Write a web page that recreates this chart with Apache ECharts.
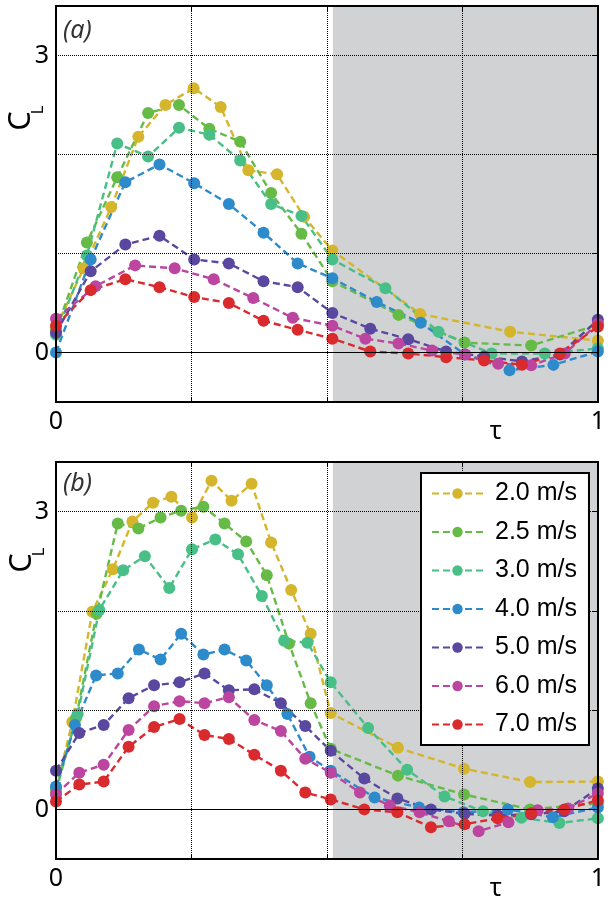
<!DOCTYPE html>
<html>
<head>
<meta charset="utf-8">
<script src="https://cdn.jsdelivr.net/npm/echarts@6/dist/echarts.min.js"></script>
<style>html,body{margin:0;padding:0;background:#fff;}#c{width:608px;height:899px;}</style>
</head>
<body>
<div id="c"></div>
<script>
// ---------- DATA ----------
const seriesNames = ['2.0 m/s', '2.5 m/s', '3.0 m/s', '4.0 m/s', '5.0 m/s', '6.0 m/s', '7.0 m/s'];

// Panel (a)
const tauA20 = [0, 0.051, 0.102, 0.152, 0.202, 0.254, 0.304, 0.355, 0.408, 0.458, 0.510, 0.672, 0.838, 1.0];
const clA20  = [0.25, 0.85, 1.47, 2.18, 2.50, 2.67, 2.48, 1.84, 1.80, 1.37, 1.03, 0.39, 0.21, 0.12];
const tauA25 = [0, 0.057, 0.113, 0.170, 0.227, 0.283, 0.340, 0.397, 0.453, 0.510, 0.632, 0.754, 0.877, 1.0];
const clA25  = [0.22, 1.11, 1.77, 2.42, 2.50, 2.26, 2.13, 1.61, 1.20, 0.72, 0.38, 0.10, 0.07, 0.28];
const tauA30 = [0, 0.057, 0.113, 0.170, 0.227, 0.283, 0.340, 0.397, 0.453, 0.510, 0.608, 0.706, 0.804, 0.902, 1.0];
const clA30  = [0.18, 0.98, 2.11, 1.98, 2.27, 2.20, 1.94, 1.50, 1.38, 0.94, 0.65, 0.21, -0.01, -0.01, 0.04];
const tauA40 = [0, 0.064, 0.128, 0.191, 0.255, 0.319, 0.383, 0.446, 0.510, 0.592, 0.673, 0.755, 0.837, 0.918, 1.0];
const clA40  = [0.0, 0.94, 1.72, 1.90, 1.71, 1.50, 1.21, 0.90, 0.75, 0.51, 0.30, -0.02, -0.18, -0.125, 0.01];
const tauA50 = [0, 0.064, 0.128, 0.191, 0.255, 0.319, 0.383, 0.446, 0.510, 0.580, 0.650, 0.720, 0.790, 0.860, 0.930, 1.0];
const clA50  = [0.20, 0.82, 1.09, 1.18, 0.94, 0.90, 0.72, 0.66, 0.40, 0.24, 0.135, 0.01, -0.04, -0.09, -0.02, 0.33];
const tauA60 = [0, 0.073, 0.146, 0.219, 0.291, 0.364, 0.437, 0.510, 0.571, 0.632, 0.694, 0.755, 0.816, 0.877, 0.939, 1.0];
const clA60  = [0.34, 0.67, 0.88, 0.85, 0.74, 0.55, 0.35, 0.27, 0.14, 0.09, 0.02, -0.02, -0.114, -0.13, -0.01, 0.29];
const tauA70 = [0, 0.064, 0.128, 0.191, 0.255, 0.319, 0.383, 0.446, 0.510, 0.580, 0.650, 0.720, 0.790, 0.860, 0.930, 1.0];
const clA70  = [0.27, 0.63, 0.74, 0.66, 0.56, 0.50, 0.32, 0.23, 0.14, 0.01, -0.01, -0.047, -0.08, -0.124, -0.01, 0.26];

// Panel (b)
const tauB20 = [0, 0.030, 0.067, 0.105, 0.141, 0.179, 0.213, 0.251, 0.287, 0.324, 0.361, 0.397, 0.434, 0.470, 0.507, 0.631, 0.753, 0.875, 1.0];
const clB20  = [0.20, 0.88, 1.99, 2.42, 2.90, 3.09, 3.15, 2.94, 3.31, 3.11, 3.28, 2.69, 2.21, 1.77, 0.97, 0.62, 0.41, 0.275, 0.28];
const tauB25 = [0, 0.037, 0.075, 0.114, 0.152, 0.193, 0.231, 0.272, 0.311, 0.351, 0.389, 0.430, 0.470, 0.507, 0.631, 0.753, 0.875, 1.0];
const clB25  = [0.18, 0.92, 1.97, 2.88, 2.83, 2.94, 3.01, 3.05, 2.88, 2.70, 2.36, 1.67, 1.07, 0.61, 0.34, 0.15, 0.0, 0.06];
const tauB30 = [0, 0.040, 0.080, 0.124, 0.164, 0.209, 0.251, 0.294, 0.336, 0.380, 0.421, 0.464, 0.507, 0.576, 0.648, 0.717, 0.788, 0.859, 0.929, 1.0];
const clB30  = [0.22, 0.96, 2.01, 2.41, 2.55, 2.23, 2.62, 2.72, 2.57, 2.15, 1.70, 1.68, 1.28, 0.82, 0.40, 0.13, -0.02, -0.084, -0.138, -0.09];
const tauB40 = [0, 0.035, 0.074, 0.114, 0.153, 0.193, 0.231, 0.272, 0.311, 0.351, 0.389, 0.427, 0.468, 0.507, 0.588, 0.670, 0.752, 0.834, 0.917, 1.0];
const clB40  = [0.23, 0.85, 1.35, 1.37, 1.61, 1.51, 1.77, 1.56, 1.61, 1.50, 1.25, 0.96, 0.53, 0.39, 0.12, 0.02, -0.03, 0.0, -0.08, 0.02];
const tauB50 = [0, 0.043, 0.088, 0.134, 0.181, 0.228, 0.274, 0.319, 0.366, 0.415, 0.460, 0.507, 0.569, 0.630, 0.692, 0.754, 0.815, 0.877, 0.938, 1.0];
const clB50  = [0.39, 0.77, 0.85, 1.12, 1.25, 1.28, 1.37, 1.20, 1.21, 1.07, 0.84, 0.59, 0.31, 0.11, 0.0, -0.045, -0.06, -0.05, -0.02, 0.21];
const tauB60 = [0, 0.043, 0.088, 0.134, 0.181, 0.228, 0.274, 0.319, 0.366, 0.415, 0.460, 0.507, 0.561, 0.616, 0.671, 0.725, 0.780, 0.835, 0.889, 0.945, 1.0];
const clB60  = [0.15, 0.37, 0.45, 0.80, 1.04, 1.09, 1.07, 1.13, 0.90, 0.79, 0.51, 0.37, 0.17, 0.04, -0.03, -0.12, -0.22, -0.13, -0.01, 0.01, 0.16];
const tauB70 = [0, 0.043, 0.088, 0.134, 0.181, 0.228, 0.274, 0.319, 0.366, 0.415, 0.460, 0.507, 0.569, 0.630, 0.692, 0.754, 0.815, 0.877, 0.938, 1.0];
const clB70  = [0.08, 0.25, 0.28, 0.63, 0.83, 0.91, 0.75, 0.71, 0.55, 0.39, 0.17, 0.10, 0.0, -0.03, -0.18, -0.15, -0.09, -0.04, 0.0, 0.09];

const xTickLabels = [0, 1];
const yTickLabels = [0, 3];
const shadeStart = 0.511;

// ---------- STYLE ----------
const colors = ['#d4b52b', '#66bb47', '#48bf86', '#2e8bcb', '#5a479f', '#bb459f', '#d92a2d'];
const FONT = '"Noto Sans", "Open Sans", sans-serif';

const panelA = [[tauA20, clA20], [tauA25, clA25], [tauA30, clA30], [tauA40, clA40], [tauA50, clA50], [tauA60, clA60], [tauA70, clA70]];
const panelB = [[tauB20, clB20], [tauB25, clB25], [tauB30, clB30], [tauB40, clB40], [tauB50, clB50], [tauB60, clB60], [tauB70, clB70]];

function zip(t, c) { return t.map((v, i) => [v, c[i]]); }

const grids = [
  { left: 56, top: 6, width: 548, height: 396 },
  { left: 56, top: 462, width: 548, height: 397 }
];

const xAxes = [], yAxes = [], series = [];
grids.forEach((g, gi) => {
  xAxes.push({
    gridIndex: gi, type: 'value', min: 0, max: 1, interval: 0.25, position: 'bottom', z: 10,
    axisLine: { show: true, onZero: false, lineStyle: { color: '#000', width: 2 } },
    axisTick: { show: true, inside: true, length: 5, lineStyle: { color: '#000' } },
    axisLabel: { show: true, customValues: xTickLabels, fontSize: 25, fontFamily: FONT, color: '#000', margin: 7, alignMaxLabel: 'center', alignMinLabel: 'center' },
    splitLine: { show: false }
  });
  xAxes.push({
    gridIndex: gi, type: 'value', min: 0, max: 1, interval: 0.25, position: 'top', z: 10,
    axisLine: { show: true, onZero: false, lineStyle: { color: '#000', width: 2 } },
    axisTick: { show: true, inside: true, length: 5, lineStyle: { color: '#000' } },
    axisLabel: { show: false }, splitLine: { show: false }
  });
  yAxes.push({
    gridIndex: gi, type: 'value', min: -0.5, max: 3.5, interval: 0.5, position: 'left', z: 10,
    axisLine: { show: true, onZero: false, lineStyle: { color: '#000', width: 2 } },
    axisTick: { show: false },
    axisLabel: { show: true, customValues: yTickLabels, fontSize: 25, fontFamily: FONT, color: '#000', margin: 7 },
    splitLine: { show: false }
  });
  yAxes.push({
    gridIndex: gi, type: 'value', min: -0.5, max: 3.5, interval: 0.5, position: 'right', z: 10,
    axisLine: { show: true, onZero: false, lineStyle: { color: '#000', width: 2 } },
    axisTick: { show: true, inside: true, length: 5, customValues: [0, 1, 2, 3], lineStyle: { color: '#000' } },
    axisLabel: { show: false }, splitLine: { show: false }
  });

  // background: shaded region + grid lines
  series.push({
    type: 'line', xAxisIndex: gi * 2, yAxisIndex: gi * 2, data: [], silent: true, z: 1,
    markArea: {
      silent: true,
      itemStyle: { color: '#d1d2d4' },
      data: [[{ xAxis: shadeStart }, { xAxis: 1 }]]
    },
    markLine: {
      silent: true, symbol: 'none', animation: false,
      label: { show: false },
      lineStyle: { color: '#000', type: 'dotted', width: 1 },
      data: [
        { yAxis: 1 }, { yAxis: 2 }, { yAxis: 3 },
        { xAxis: 0.25 }, { xAxis: 0.5 }, { xAxis: 0.75 },
        { yAxis: 0, lineStyle: { type: 'solid', width: 1, color: '#000' } }
      ]
    }
  });

  const panel = gi === 0 ? panelA : panelB;
  panel.forEach((p, si) => {
    series.push({
      name: seriesNames[si], type: 'line', xAxisIndex: gi * 2, yAxisIndex: gi * 2,
      data: zip(p[0], p[1]), z: 3,
      symbol: 'circle', symbolSize: 12, showSymbol: true,
      itemStyle: { color: colors[si] },
      lineStyle: { color: colors[si], width: 2.4, type: [7, 4] },
      animation: false
    });
  });
});

const chart = echarts.init(document.getElementById('c'), null, { renderer: 'canvas' });
chart.setOption({
  animation: false,
  backgroundColor: '#fff',
  grid: grids,
  xAxis: xAxes,
  yAxis: yAxes,
  series: series,
  legend: {
    data: seriesNames,
    orient: 'vertical',
    left: 421, top: 473,
    backgroundColor: '#fff',
    borderColor: '#000', borderWidth: 2, borderRadius: 0,
    padding: [8, 12, 8, 10],
    itemWidth: 51, itemHeight: 13, itemGap: 13.5,
    textStyle: { fontSize: 25, lineHeight: 24, padding: [0, 0, 0, 7], fontFamily: '"Liberation Sans", Arial, sans-serif', color: '#000' },
    z: 20
  },
  graphic: [
    { type: 'text', left: 63, top: 18, z: 30, style: { text: '(a)', fontSize: 25, fontStyle: 'italic', fontFamily: FONT, fill: '#333' } },
    { type: 'text', left: 63, top: 471, z: 30, style: { text: '(b)', fontSize: 25, fontStyle: 'italic', fontFamily: FONT, fill: '#333' } },
    { type: 'text', x: 496, y: 432, z: 30, style: { text: 'τ', fontSize: 25, fontFamily: FONT, fill: '#000', align: 'center', verticalAlign: 'middle' } },
    { type: 'text', x: 496, y: 889, z: 30, style: { text: 'τ', fontSize: 25, fontFamily: FONT, fill: '#000', align: 'center', verticalAlign: 'middle' } },
    { type: 'text', x: 21, y: 121, rotation: Math.PI / 2, z: 30, style: { text: 'C', fontSize: 31, fontFamily: FONT, fill: '#000', align: 'center', verticalAlign: 'middle' } },
    { type: 'text', x: 38, y: 110, rotation: Math.PI / 2, z: 30, style: { text: 'L', fontSize: 17, fontFamily: FONT, fill: '#000', align: 'center', verticalAlign: 'middle' } },
    { type: 'text', x: 22, y: 563, rotation: Math.PI / 2, z: 30, style: { text: 'C', fontSize: 31, fontFamily: FONT, fill: '#000', align: 'center', verticalAlign: 'middle' } },
    { type: 'text', x: 39, y: 552, rotation: Math.PI / 2, z: 30, style: { text: 'L', fontSize: 17, fontFamily: FONT, fill: '#000', align: 'center', verticalAlign: 'middle' } }
  ]
});
</script>
</body>
</html>
